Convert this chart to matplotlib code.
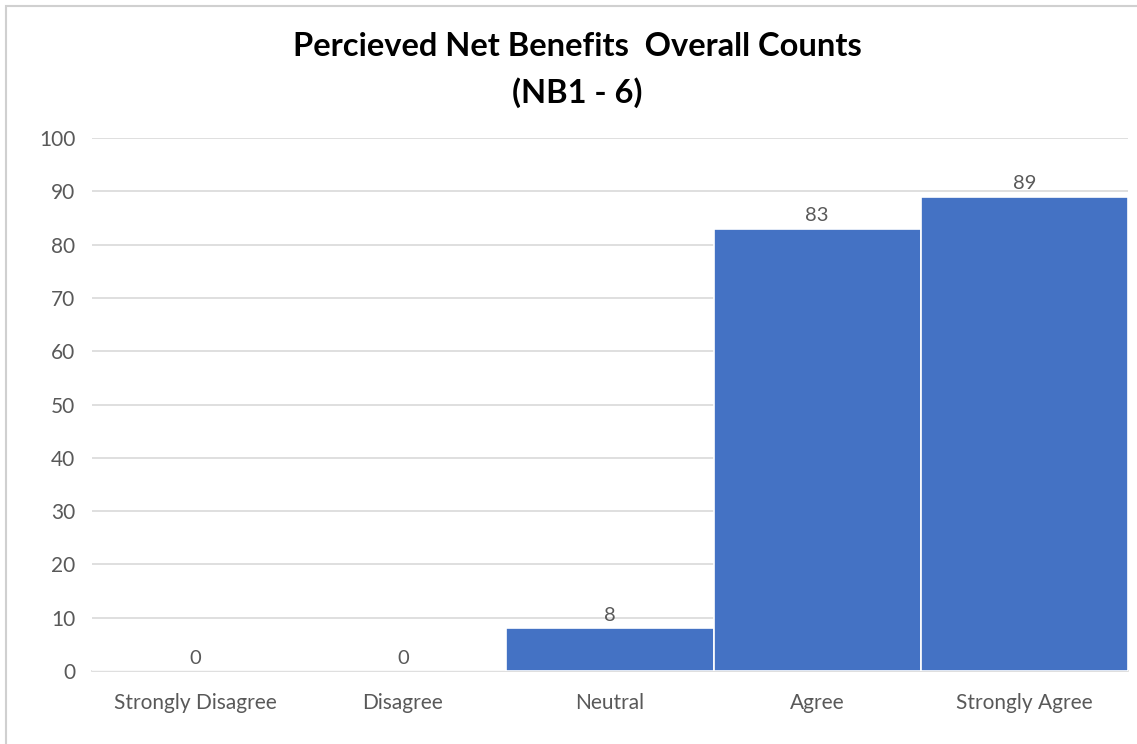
import matplotlib.pyplot as plt
from matplotlib.patches import Rectangle

categories = ["Strongly Disagree", "Disagree", "Neutral", "Agree", "Strongly Agree"]
counts = [0, 0, 8, 83, 89]
yticks = list(range(0, 101, 10))

plt.rcParams['font.family'] = ['Lato', 'DejaVu Sans']

fig = plt.figure(figsize=(11.37, 7.44), dpi=100)
ax = fig.add_axes([0.0809, 0.0981, 0.9111, 0.7164])

x = range(len(categories))
ax.bar(x, counts, width=1.0, color="#4472C4", edgecolor="white", linewidth=1.2, zorder=3)
for i, v in enumerate(counts):
    ax.annotate(str(v), (i, v), xytext=(0, 3), textcoords="offset points",
                ha="center", va="bottom", fontsize=14.5, color="#595959")

ax.set_xlim(-0.5, len(categories) - 0.5)
ax.set_ylim(0, 100)
ax.set_yticks(yticks)
ax.set_xticks(list(x))
ax.set_xticklabels(categories)
ax.tick_params(axis="both", length=0, labelsize=15, labelcolor="#595959")
ax.tick_params(axis="x", pad=16)
ax.tick_params(axis="y", pad=12)
ax.grid(axis="y", color="#D9D9D9", linewidth=1.2, zorder=0)
for s in ["top", "right", "left"]:
    ax.spines[s].set_visible(False)
ax.spines["bottom"].set_color("#D9D9D9")
ax.spines["bottom"].set_linewidth(1.2)

fig.text(0.508, 0.906, "Percieved Net Benefits  Overall Counts\n(NB1 - 6)",
         ha="center", va="center", fontsize=23.5, fontweight="bold",
         color="black", linespacing=1.65)

# chart area border (left and top visible in the crop)
fig.add_artist(Rectangle((6 / 1137, -0.1), 1.2, 0.1 + (744 - 6) / 744,
                         transform=fig.transFigure, fill=False,
                         edgecolor="#D0D0D0", linewidth=1.5))

fig.savefig("out.png", dpi=100)
